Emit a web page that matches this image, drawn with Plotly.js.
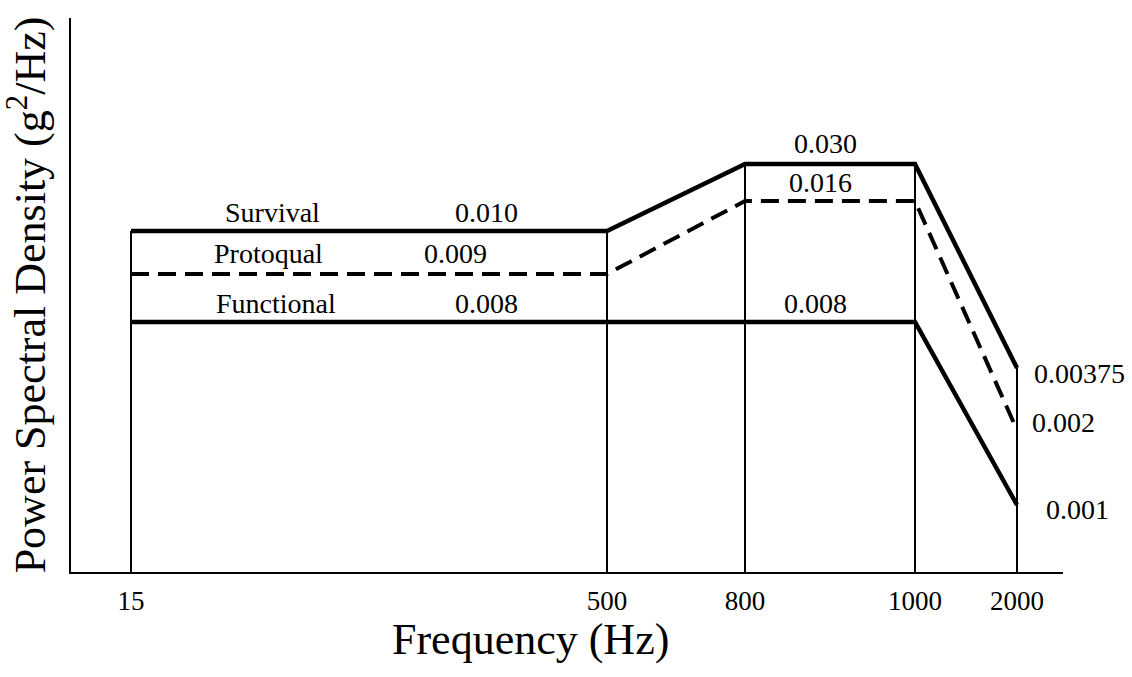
<!DOCTYPE html>
<html>
<head>
<meta charset="utf-8">
<script src="https://cdn.plot.ly/plotly-3.0.1.min.js"></script>
<style>
  html, body { margin: 0; padding: 0; background: #ffffff; }
  #chart { width: 1132px; height: 677px; }
</style>
</head>
<body>
<div id="chart"></div>
<script>
// ---- data (schematic PSD chart) ----
const freqLabels = ['15', '500', '800', '1000', '2000'];
// schematic (non-proportional) axis position of each frequency breakpoint
const freqAxisPos = [60, 536, 674, 844, 946];

// PSD levels shown on the chart and their schematic heights
const psdLevels   = [0.001, 0.002, 0.00375, 0.008, 0.009, 0.010, 0.016, 0.030];
const psdLevelTxt = ['0.001', '0.002', '0.00375', '0.008', '0.009', '0.010', '0.016', '0.030'];
const psdAxisPos  = [67, 142, 204, 250, 298, 341, 371, 408];

const survivalPSD   = [0.010, 0.010, 0.030, 0.030, 0.00375];
const protoqualPSD  = [0.009, 0.009, 0.016, 0.016, 0.002];
const functionalPSD = [0.008, 0.008, 0.008, 0.008, 0.001];

const seriesNames = ['Survival', 'Protoqual', 'Functional'];

// ---- helpers ----
const lvl = v => psdAxisPos[psdLevels.indexOf(v)];
const txt = v => psdLevelTxt[psdLevels.indexOf(v)];

const FONT = '"Liberation Serif", serif';

// vertical reference lines from axis up to the Survival envelope
const vx = [], vy = [];
freqAxisPos.forEach((p, i) => { vx.push(p, p, null); vy.push(0, lvl(survivalPSD[i]), null); });

const traces = [
  { x: vx, y: vy, mode: 'lines', line: { color: '#000', width: 2 }, hoverinfo: 'skip', name: 'grid' },
  { x: freqAxisPos, y: survivalPSD.map(lvl), mode: 'lines', name: seriesNames[0],
    line: { color: '#000', width: 4.5 } },
  { x: freqAxisPos, y: protoqualPSD.map(lvl), mode: 'lines', name: seriesNames[1],
    line: { color: '#000', width: 4, dash: '18px,9px' } },
  { x: freqAxisPos, y: functionalPSD.map(lvl), mode: 'lines', name: seriesNames[2],
    line: { color: '#000', width: 4.5 } }
];

function ann(text, x, y, xanchor) {
  return { text: text, x: x, y: y, xref: 'x', yref: 'y', showarrow: false,
           xanchor: xanchor || 'center', yanchor: 'middle',
           font: { family: FONT, size: 28, color: '#000' } };
}

const annotations = [
  ann(seriesNames[0], 201, 360),
  ann(txt(survivalPSD[0]), 415, 360),
  ann(seriesNames[1], 197, 319),
  ann(txt(protoqualPSD[0]), 384, 319),
  ann(seriesNames[2], 205, 269),
  ann(txt(functionalPSD[0]), 415, 269),
  ann(txt(functionalPSD[2]), 744, 269),
  ann(txt(survivalPSD[2]), 754, 429),
  ann(txt(protoqualPSD[2]), 749, 390),
  ann(txt(survivalPSD[4]), 961, 199, 'left'),
  ann(txt(protoqualPSD[4]), 959, 150, 'left'),
  ann(txt(functionalPSD[4]), 973, 63, 'left'),
  { text: 'Frequency (Hz)', x: 459, y: -0.122, xref: 'x', yref: 'paper', showarrow: false,
    xanchor: 'center', yanchor: 'middle', font: { family: FONT, size: 44, color: '#000' } }
];

const layout = {
  width: 1132, height: 677,
  margin: { l: 71, r: 69, t: 18, b: 105, pad: 0 },
  paper_bgcolor: '#fff', plot_bgcolor: '#fff',
  font: { family: FONT, color: '#000' },
  showlegend: false, hovermode: false,
  xaxis: {
    range: [0, 992], showgrid: false, zeroline: false,
    showline: true, linecolor: '#000', linewidth: 2,
    tickmode: 'array', tickvals: freqAxisPos, ticktext: freqLabels,
    ticks: '', ticklabelstandoff: 4,
    tickfont: { family: FONT, size: 27, color: '#000' }
  },
  yaxis: {
    range: [0, 554], showgrid: false, zeroline: false,
    showline: true, linecolor: '#000', linewidth: 2,
    showticklabels: false, ticks: '',
    title: { text: 'Power Spectral Density (g<sup>2</sup>/Hz)', standoff: 16,
             font: { family: FONT, size: 44, color: '#000' } }
  },
  annotations: annotations
};

Plotly.newPlot('chart', traces, layout, { displayModeBar: false, staticPlot: true });
</script>
</body>
</html>
